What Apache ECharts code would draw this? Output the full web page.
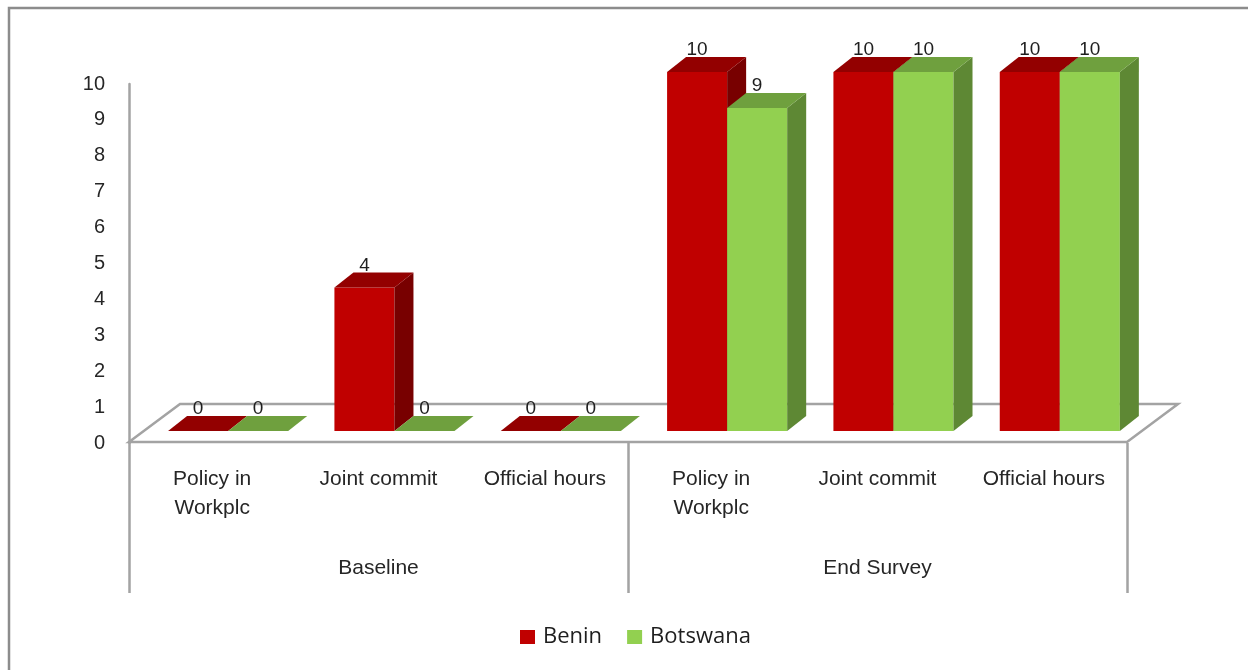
<!DOCTYPE html>
<html>
<head>
<meta charset="utf-8">
<script src="https://cdn.jsdelivr.net/npm/echarts@6/dist/echarts.min.js"></script>
<style>
html,body{margin:0;padding:0;background:#fff;}
#c{width:1248px;height:670px;}
</style>
</head>
<body>
<div id="c"></div>
<script>
const categories = ['Policy in\nWorkplc', 'Joint commit', 'Official hours', 'Policy in\nWorkplc', 'Joint commit', 'Official hours'];
const groups = ['Baseline', 'End Survey'];
const seriesNames = ['Benin', 'Botswana'];
const benin = [0, 4, 0, 10, 10, 10];
const botswana = [0, 0, 0, 9, 10, 10];
const yMin = 0, yMax = 10, yInterval = 1;

const palette = {
  Benin: { front: '#C00000', top: '#930000', side: '#780000' },
  Botswana: { front: '#92D050', top: '#6FA03E', side: '#5E8834' }
};

const chart = echarts.init(document.getElementById('c'), null, { renderer: 'canvas' });
const FONT = '"Liberation Sans", Arial, sans-serif';

function barRender(sideIdx, col) {
  return function (params, api) {
    const idx = api.value(0), v = api.value(1);
    const base = api.coord([idx, 0]);
    const top = api.coord([idx, v]);
    const band = api.size([1, 0])[0];
    const w = band * 0.361;
    const sx = band * 0.096, sy = -12, dx = 19, dy = -15;
    const x0 = base[0] + sx + (sideIdx === 0 ? -w : 0);
    const x1 = x0 + w;
    const yb = base[1] + sy, yt = top[1] + sy;
    const children = [];
    if (v > 0) {
      children.push({ type: 'rect', shape: { x: x0, y: yt, width: w, height: yb - yt }, style: { fill: col.front } });
      children.push({ type: 'polygon', shape: { points: [[x1, yt], [x1 + dx, yt + dy], [x1 + dx, yb + dy], [x1, yb]] }, style: { fill: col.side } });
    }
    children.push({ type: 'polygon', shape: { points: [[x0, yt], [x1, yt], [x1 + dx, yt + dy], [x0 + dx, yt + dy]] }, style: { fill: col.top } });
    children.push({ type: 'text', style: { text: String(v), x: x0 + w / 2, y: yt + dy - 7, align: 'center', verticalAlign: 'middle', font: '19px ' + FONT, fill: '#1e1e1e' } });
    return { type: 'group', children: children };
  };
}

function floorRender(params, api) {
  const cs = params.coordSys;
  const fx = cs.x, fy = cs.y + cs.height - 1, fw = cs.width;
  const ox = 51, oy = -38;
  return {
    type: 'polygon',
    shape: { points: [[fx, fy], [fx + ox, fy + oy], [fx + fw + ox, fy + oy], [fx + fw, fy]] },
    style: { fill: 'none', stroke: '#A3A3A3', lineWidth: 2.5, lineJoin: 'miter' }
  };
}

const option = {
  backgroundColor: '#fff',
  animation: false,
  graphic: [{
    type: 'rect', shape: { x: 9, y: 8, width: 1400, height: 800 },
    style: { fill: 'none', stroke: '#8C8C8C', lineWidth: 2.5 }, z: 0, silent: true
  }],
  legend: {
    data: seriesNames,
    top: 621, left: 515,
    icon: 'rect', itemWidth: 15, itemHeight: 14, itemGap: 25,
    textStyle: { fontFamily: '"Open Sans", sans-serif', fontSize: 22, color: '#1e1e1e', padding: [0, 0, 0, 3] }
  },
  grid: { left: 129, right: 121, top: 84, bottom: 227, containLabel: false },
  xAxis: [{
    type: 'category', data: categories, position: 'bottom',
    axisLine: { show: false }, axisTick: { show: false }, splitLine: { show: false },
    axisLabel: { interval: 0, margin: 22, fontFamily: FONT, fontSize: 21, lineHeight: 29, color: '#262626' }
  }, {
    type: 'category', data: groups, position: 'bottom', offset: 0,
    axisLine: { show: false },
    axisTick: { show: true, length: 150, interval: 0, alignWithLabel: false, lineStyle: { color: '#A3A3A3', width: 2.5 } },
    splitLine: { show: false },
    axisLabel: { interval: 0, margin: 111, fontFamily: FONT, fontSize: 21, lineHeight: 28, color: '#262626' }
  }],
  yAxis: {
    type: 'value', min: yMin, max: yMax, interval: yInterval,
    axisLine: { show: true, lineStyle: { color: '#A3A3A3', width: 2.5 } },
    axisTick: { show: false }, splitLine: { show: false },
    axisLabel: { margin: 24, fontFamily: FONT, fontSize: 20, color: '#262626' }
  },
  series: [{
    name: 'floor', type: 'custom', z: 1, silent: true, renderItem: floorRender,
    data: [[0, 0]], encode: { x: 0, y: 1 }, tooltip: { show: false }
  }, {
    name: 'Benin', type: 'custom', z: 2, renderItem: barRender(0, palette.Benin),
    itemStyle: { color: palette.Benin.front },
    data: benin.map((v, i) => [i, v]), encode: { x: 0, y: 1 }
  }, {
    name: 'Botswana', type: 'custom', z: 3, renderItem: barRender(1, palette.Botswana),
    itemStyle: { color: palette.Botswana.front },
    data: botswana.map((v, i) => [i, v]), encode: { x: 0, y: 1 }
  }]
};
chart.setOption(option);
</script>
</body>
</html>
